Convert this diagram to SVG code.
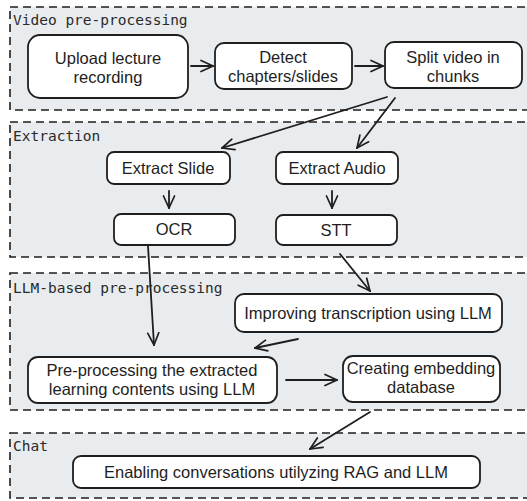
<svg xmlns="http://www.w3.org/2000/svg" width="527" height="501" viewBox="0 0 527 501">
<defs>
<style>
.grp{fill:#e9ecef;stroke:#1e1e1e;stroke-width:1.6;stroke-dasharray:8 5}
.gl{font-family:"DejaVu Sans Mono",monospace;font-size:14.5px;fill:#2a2a2a}
.nd{fill:#ffffff;stroke:#1e1e1e;stroke-width:1.8}
.t{font-family:"Liberation Sans",Arial,sans-serif;font-size:16.5px;fill:#1e1e1e;text-anchor:middle}
.c{fill:none;stroke:#1e1e1e;stroke-width:1.8;stroke-linecap:round;marker-end:url(#ah)}
</style>
<marker id="ah" viewBox="0 0 14 14" refX="13" refY="7" markerWidth="14" markerHeight="14" markerUnits="userSpaceOnUse" orient="auto">
<path d="M1,1.5 L13,7 L1,12.5" fill="none" stroke="#1e1e1e" stroke-width="1.7" stroke-linecap="round"/>
</marker>
</defs>
<rect width="527" height="501" fill="#ffffff"/>
<g id="groups">
<rect class="grp" x="10" y="7" width="540" height="103"/>
<text class="gl" x="13" y="25">Video pre-processing</text>
<rect class="grp" x="10" y="122" width="540" height="135"/>
<text class="gl" x="13" y="141">Extraction</text>
<rect class="grp" x="10" y="273" width="540" height="137"/>
<text class="gl" x="13" y="293">LLM-based pre-processing</text>
<rect class="grp" x="10" y="433" width="540" height="65"/>
<text class="gl" x="13" y="451">Chat</text>
</g>
<g id="upload"><rect class="nd" x="28" y="35" width="160" height="63" rx="12"/><text class="t" x="108" y="64">Upload lecture</text><text class="t" x="108" y="83">recording</text></g>
<g id="detect"><rect class="nd" x="215" y="43" width="137" height="46" rx="9"/><text class="t" x="283" y="63">Detect</text><text class="t" x="283" y="82">chapters/slides</text></g>
<g id="split"><rect class="nd" x="385" y="42" width="137" height="46" rx="9"/><text class="t" x="453" y="63">Split video in</text><text class="t" x="453" y="82">chunks</text></g>
<g id="extract-slide"><rect class="nd" x="107" y="152" width="123" height="32" rx="7"/><text class="t" x="168" y="174">Extract Slide</text></g>
<g id="extract-audio"><rect class="nd" x="276" y="152" width="122" height="32" rx="7"/><text class="t" x="337" y="174">Extract Audio</text></g>
<g id="ocr"><rect class="nd" x="114" y="214" width="121" height="31" rx="7"/><text class="t" x="174" y="235">OCR</text></g>
<g id="stt"><rect class="nd" x="276" y="215" width="121" height="30" rx="7"/><text class="t" x="336" y="236">STT</text></g>
<g id="improving"><rect class="nd" x="235" y="294" width="267" height="38" rx="9"/><text class="t" x="368" y="319">Improving transcription using LLM</text></g>
<g id="preprocessing"><rect class="nd" x="28" y="357" width="249" height="46" rx="10"/><text class="t" x="152" y="376">Pre-processing the extracted</text><text class="t" x="152" y="395">learning contents using LLM</text></g>
<g id="embedding"><rect class="nd" x="343" y="356" width="157" height="46" rx="10"/><text class="t" x="421" y="374">Creating embedding</text><text class="t" x="421" y="393">database</text></g>
<g id="chat"><rect class="nd" x="73" y="456" width="407" height="32" rx="8"/><text class="t" x="276" y="478">Enabling conversations utilyzing RAG and LLM</text></g>
<g id="connectors">
<path class="c" d="M191,66 L213,66"/>
<path class="c" d="M355,66 L383,66"/>
<path class="c" d="M387,97 L222,148"/>
<path class="c" d="M395,98 L357,148"/>
<path class="c" d="M169,191 L169,208"/>
<path class="c" d="M332,191 L332,208"/>
<path class="c" d="M148,246 L154,345"/>
<path class="c" d="M340,254 L370,291"/>
<path class="c" d="M298,339 L255,348"/>
<path class="c" d="M286,380 L337,380"/>
<path class="c" d="M370,412 L310,449"/>
</g>
</svg>
